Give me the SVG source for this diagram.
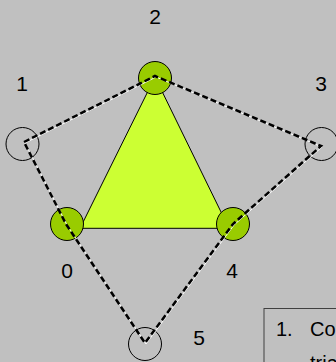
<svg xmlns="http://www.w3.org/2000/svg" width="336" height="362" viewBox="0 0 336 362">
<style>
.lbl{font-family:"Liberation Sans",Arial,sans-serif;font-size:21px;fill:#000;text-anchor:middle}
.txt{font-family:"Liberation Sans",Arial,sans-serif;font-size:20px;fill:#000}
.on{fill:#99cc00;stroke:#000;stroke-width:1}
.off{fill:none;stroke:#000;stroke-width:1}
.edge-w{fill:none;stroke:#fff;stroke-width:1;transform:translate(1px,1px)}
.edge-b{fill:none;stroke:#000;stroke-width:2.5;stroke-dasharray:6 3}
</style>
<rect width="336" height="362" fill="#c0c0c0"/>
<g id="triangle">
<polygon points="155,77 80,228.3 229,228.3" fill="#ccff33" stroke="#000" stroke-width="1"/>
</g>
<g id="node0"><circle class="on" cx="67" cy="224" r="16.5"/><text class="lbl" x="67" y="278">0</text></g>
<g id="node2"><circle class="on" cx="155" cy="78" r="16.5"/><text class="lbl" x="155" y="24">2</text></g>
<g id="node4"><circle class="on" cx="233" cy="224" r="16.5"/><text class="lbl" x="232" y="278">4</text></g>
<g id="node1"><circle class="off" cx="22.5" cy="144" r="16.5"/><text class="lbl" x="22" y="91">1</text></g>
<g id="node3"><circle class="off" cx="321.5" cy="144" r="16.5"/><text class="lbl" x="321" y="91">3</text></g>
<g id="node5"><circle class="off" cx="145" cy="344" r="16.5"/><text class="lbl" x="199" y="345">5</text></g>
<g id="connectors">
<polygon class="edge-w" points="24,142 155,76 321,146 233,224 145,343 66,224"/>
<polygon class="edge-b" points="24,142 155,76 321,146 233,224 145,343 66,224"/>
</g>
<g id="note">
<rect x="264" y="308.5" width="80" height="60" fill="#c0c0c0" stroke="#404040" stroke-width="1"/>
<text class="txt" x="276" y="336">1.</text>
<text class="txt" x="310" y="336">Co</text>
<text class="txt" x="310" y="370">tria</text>
</g>
</svg>
